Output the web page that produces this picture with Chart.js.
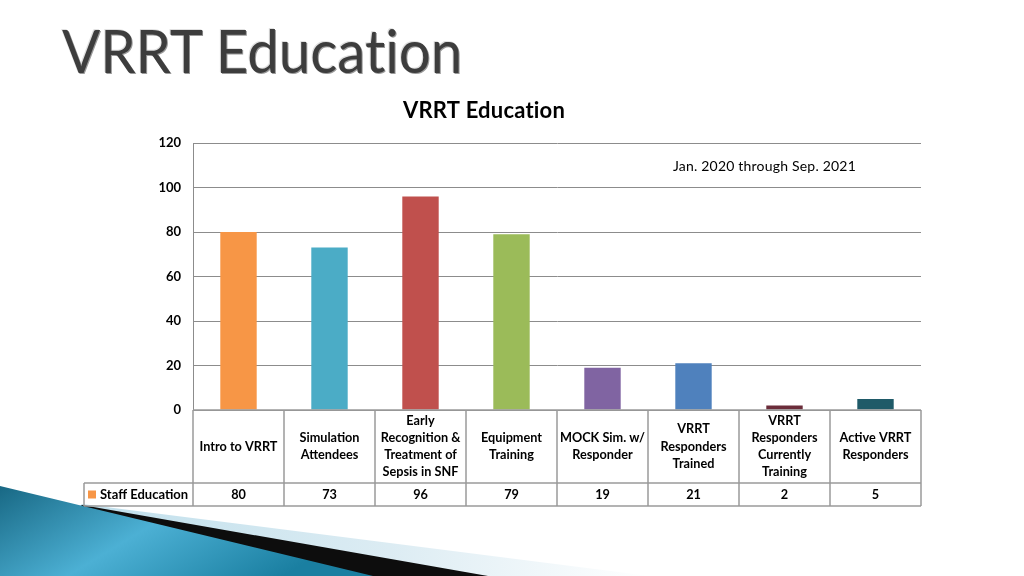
<!DOCTYPE html>
<html>
<head>
<meta charset="utf-8">
<script src="https://cdn.jsdelivr.net/npm/chart.js@4.4.1/dist/chart.umd.min.js"></script>
<style>
  body { margin: 0; width: 1024px; height: 576px; overflow: hidden; position: relative; background: #fff; }
  #swoosh { position: absolute; left: 0; top: 0; }
  #chart { position: absolute; left: 0; top: 0; }
  #slideTitle {
    position: absolute; left: 62px; top: 20px; margin: 0;
    font-family: Lato, sans-serif; font-weight: normal; font-size: 60px; line-height: 1;
    font-variant-ligatures: none;
    color: #3d3d3d; white-space: nowrap; transform-origin: left top;
    text-shadow: 1px 1px 0 #9a9a9a, -1px -1px 0 #e0e0e0;
  }
</style>
</head>
<body>
<svg id="swoosh" width="1024" height="576">
  <defs>
    <linearGradient id="fade" x1="0" y1="0" x2="1" y2="0">
      <stop offset="0" stop-color="#b9dcea"/>
      <stop offset="0.6" stop-color="#dcecf3"/>
      <stop offset="1" stop-color="#ffffff"/>
    </linearGradient>
    <linearGradient id="blue" x1="0" y1="0" x2="1" y2="0.4">
      <stop offset="0" stop-color="#186884"/>
      <stop offset="0.5" stop-color="#4cb0d4"/>
      <stop offset="1" stop-color="#1a7fa1"/>
    </linearGradient>
  </defs>
  <polygon points="82,504 650,576 0,576" fill="url(#fade)"/>
  <polygon points="82,505 488,576 0,576" fill="#0d0d0d"/>
  <polygon points="0,486 373,576 0,576" fill="url(#blue)"/>
</svg>
<h1 id="slideTitle">VRRT Education</h1>
<canvas id="chart" width="1024" height="576"></canvas>
<script>
const chartTitle = 'VRRT Education';
const noteText = 'Jan. 2020 through Sep. 2021';
const seriesName = 'Staff Education';
const categories = [
  ['Intro to VRRT'],
  ['Simulation', 'Attendees'],
  ['Early', 'Recognition &', 'Treatment of', 'Sepsis in SNF'],
  ['Equipment', 'Training'],
  ['MOCK Sim. w/', 'Responder'],
  ['VRRT', 'Responders', 'Trained'],
  ['VRRT', 'Responders', 'Currently', 'Training'],
  ['Active VRRT', 'Responders']
];
const staffEducation = [80, 73, 96, 79, 19, 21, 2, 5];
const barColors = ['#f79646', '#4bacc6', '#c0504d', '#9bbb59', '#8064a2', '#4f81bd', '#6b2c3a', '#1f5a68'];
const legendColor = '#f79646';
const yMin = 0, yMax = 120, yStep = 20;

const FONT = 'Lato, "Open Sans", sans-serif';

// squeeze the slide heading to the width it has in the slide
const h = document.getElementById('slideTitle');
h.style.transform = 'scaleX(' + (400 / h.offsetWidth) + ')';

// title, note and the data table under the plot
const tablePlugin = {
  id: 'dataTable',
  afterDraw(chart) {
    const { ctx, chartArea: a, scales: { x } } = chart;
    const top = a.bottom, mid = top + 73, bot = mid + 23;
    const legLeft = 84;
    const half = (x.getPixelForValue(1) - x.getPixelForValue(0)) / 2;

    ctx.save();
    ctx.fillStyle = '#000';
    ctx.textAlign = 'center';
    ctx.textBaseline = 'middle';
    ctx.letterSpacing = '0.2px'; // keeps "ti" from turning into a ligature
    ctx.font = 'bold 22px ' + FONT;
    ctx.fillText(chartTitle, 484, 111);

    ctx.textAlign = 'left';
    ctx.font = '14px ' + FONT;
    ctx.fillText(noteText, 673, 166);

    // grid of the table
    ctx.strokeStyle = '#9a9a9a';
    ctx.lineWidth = 1.5;
    ctx.beginPath();
    ctx.moveTo(a.left, top); ctx.lineTo(a.right, top);
    ctx.moveTo(legLeft, mid); ctx.lineTo(a.right, mid);
    ctx.moveTo(legLeft, bot); ctx.lineTo(a.right, bot);
    ctx.moveTo(legLeft, mid); ctx.lineTo(legLeft, bot);
    ctx.moveTo(a.left, top); ctx.lineTo(a.left, bot);
    categories.forEach((c, i) => {
      const r = x.getPixelForValue(i) + half;
      ctx.moveTo(r, top); ctx.lineTo(r, bot);
    });
    ctx.stroke();

    // category names and values
    ctx.textAlign = 'center';
    ctx.letterSpacing = '0px';
    ctx.font = 'bold 12.7px ' + FONT;
    const lh = 17.2;
    categories.forEach((lines, i) => {
      const cx = x.getPixelForValue(i);
      const y0 = (top + mid) / 2 - (lines.length - 1) * lh / 2;
      lines.forEach((t, j) => ctx.fillText(t, cx, y0 + j * lh));
      ctx.fillText(String(staffEducation[i]), cx, (mid + bot) / 2);
    });

    // legend key
    ctx.fillStyle = legendColor;
    ctx.fillRect(88, (mid + bot) / 2 - 4, 8, 8);
    ctx.fillStyle = '#000';
    ctx.textAlign = 'left';
    ctx.font = 'bold 13px ' + FONT;
    ctx.fillText(seriesName, 100, (mid + bot) / 2);
    ctx.restore();
  }
};

new Chart(document.getElementById('chart'), {
  type: 'bar',
  data: {
    labels: categories.map(c => c.join(' ')),
    datasets: [{
      label: seriesName,
      data: staffEducation,
      backgroundColor: barColors,
      borderWidth: 0,
      barPercentage: 0.4,
      categoryPercentage: 1
    }]
  },
  options: {
    responsive: false,
    animation: false,
    devicePixelRatio: 1,
    layout: { padding: { top: 143, right: 103, bottom: 166, left: 0 } },
    scales: {
      x: { display: false },
      y: {
        min: yMin,
        max: yMax,
        afterFit: (s) => { s.width = 193; },
        ticks: {
          stepSize: yStep,
          padding: 12,
          color: '#000',
          font: { family: FONT, size: 13, weight: 'bold' }
        },
        grid: { color: '#8c8c8c', lineWidth: 1, drawTicks: false },
        border: { display: true, color: '#8c8c8c', width: 1 }
      }
    },
    plugins: {
      legend: { display: false },
      title: { display: false },
      tooltip: { enabled: false }
    }
  },
  plugins: [tablePlugin]
});
</script>
</body>
</html>
